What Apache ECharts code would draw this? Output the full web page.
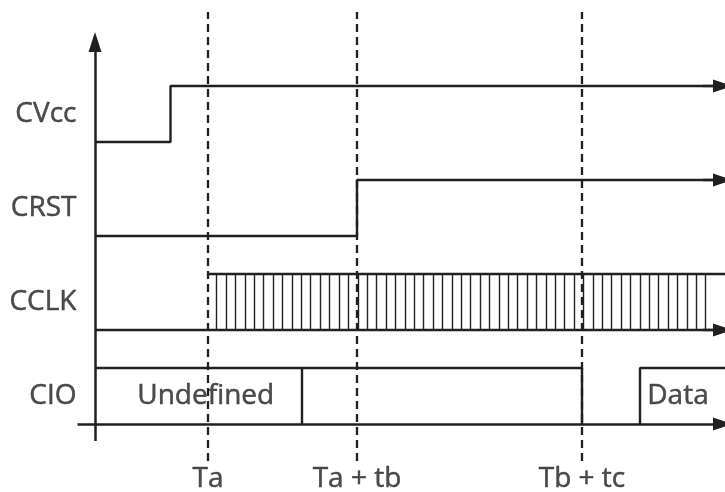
<!DOCTYPE html>
<html>
<head>
<meta charset="utf-8">
<script src="https://cdn.jsdelivr.net/npm/echarts@6/dist/echarts.min.js"></script>
<style>
  html, body { margin: 0; padding: 0; background: #fff; }
  #chart { width: 725px; height: 492px; }
</style>
</head>
<body>
<div id="chart"></div>
<script>
// time axis in arbitrary units, signal levels in arbitrary units (0 = CIO low)
const signalNames = ['CVcc', 'CRST', 'CCLK', 'CIO'];
const lowLevels = [28.2, 18.8, 9.4, 0];
const highLevels = [33.8, 24.4, 15.0, 5.6];

const markerTimes = [11.3, 26.2, 48.7];
const markerLabels = ['Ta', 'Ta + tb', 'Tb + tc'];

const cvccRise = 7.55;
const crstRise = 26.2;
const clkStart = 11.3;
const clockEdges = [
  12.17, 13.11, 14.05, 14.99, 15.93, 16.87, 17.81, 18.75, 19.69, 20.63,
  21.57, 22.51, 23.45, 24.40, 25.34, 26.28, 27.22, 28.16, 29.10, 30.04,
  30.98, 31.92, 32.86, 33.80, 34.74, 35.68, 36.62, 37.56, 38.50, 39.44,
  40.38, 41.32, 42.26, 43.20, 44.14, 45.08, 46.03, 46.97, 47.91, 48.85,
  49.79, 50.73, 51.67, 52.61, 53.55, 54.49, 55.43, 56.37, 57.31, 58.25,
  59.19, 60.13, 61.07,
];
const cioUndefinedEnd = 20.7;
const cioRelease = 48.7;
const cioDataStart = 54.5;
const cioTexts = ['Undefined', 'Data'];
const cioTextTimes = [11.07, 58.3];

const timeStart = -1.75;
const timeEnd = 62.8;
const edgeTime = 63;
const levelBottom = -1.7;
const levelTop = 38.2;
const dashBottom = -3.7;
const dashTop = 41.2;
const markerLabelLevel = -5.5;
const nameTime = -1.8;

const ink = '#231f20';
const font = 'Open Sans';

const chartDom = document.getElementById('chart');
const myChart = echarts.init(chartDom, null, { renderer: 'canvas' });

const arrowLine = (from, to) => ([
  { coord: from, symbol: 'none' },
  { coord: to, symbol: 'triangle', symbolSize: [13, 20] },
]);

const plainSeries = (data, width) => ({
  type: 'line',
  data,
  symbol: 'none',
  silent: true,
  lineStyle: { color: ink, width: width || 2.4 },
});

const series = [];

// CVcc
series.push(Object.assign(plainSeries([
  [0, lowLevels[0]], [cvccRise, lowLevels[0]], [cvccRise, highLevels[0]], [timeEnd, highLevels[0]],
]), {
  markLine: {
    silent: true,
    label: { show: false },
    lineStyle: { color: ink, width: 2.4, type: 'solid' },
    data: [arrowLine([timeEnd - 2, highLevels[0]], [timeEnd, highLevels[0]])],
  },
}));

// CRST
series.push(Object.assign(plainSeries([
  [0, lowLevels[1]], [crstRise, lowLevels[1]], [crstRise, highLevels[1]], [timeEnd, highLevels[1]],
]), {
  markLine: {
    silent: true,
    label: { show: false },
    lineStyle: { color: ink, width: 2.4, type: 'solid' },
    data: [arrowLine([timeEnd - 2, highLevels[1]], [timeEnd, highLevels[1]])],
  },
}));

// CCLK baseline + top + clock ticks
series.push(Object.assign(plainSeries([[0, lowLevels[2]], [timeEnd, lowLevels[2]]]), {
  markLine: {
    silent: true,
    label: { show: false },
    lineStyle: { color: ink, width: 2.4, type: 'solid' },
    data: [arrowLine([timeEnd - 2, lowLevels[2]], [timeEnd, lowLevels[2]])],
  },
}));
series.push(Object.assign(plainSeries([[clkStart, highLevels[2]], [edgeTime, highLevels[2]]]), {
  markLine: {
    silent: true,
    symbol: 'none',
    label: { show: false },
    lineStyle: { color: ink, width: 1.4, type: 'solid' },
    data: clockEdges.map((t) => [
      { coord: [t, lowLevels[2]] },
      { coord: [t, highLevels[2]] },
    ]),
  },
}));

// CIO
series.push(Object.assign(plainSeries([
  [0, highLevels[3]], [cioRelease, highLevels[3]], [cioRelease, lowLevels[3]],
]), {
  markLine: {
    silent: true,
    symbol: 'none',
    label: { show: false },
    lineStyle: { color: ink, width: 2.4, type: 'solid' },
    data: [[
      { coord: [cioUndefinedEnd, lowLevels[3]] },
      { coord: [cioUndefinedEnd, highLevels[3]] },
    ]],
  },
}));
series.push(plainSeries([
  [cioDataStart, lowLevels[3]], [cioDataStart, highLevels[3]], [edgeTime, highLevels[3]],
]));

// axes with arrows
series.push({
  type: 'line',
  data: [],
  silent: true,
  markLine: {
    silent: true,
    label: { show: false },
    lineStyle: { color: ink, width: 2.5, type: 'solid' },
    data: [
      arrowLine([0, levelBottom], [0, levelTop]),
      arrowLine([timeStart, 0], [timeEnd, 0]),
    ],
  },
});

// dashed time markers
series.push({
  type: 'line',
  data: [],
  silent: true,
  markLine: {
    silent: true,
    symbol: 'none',
    label: { show: false },
    lineStyle: { color: ink, width: 2.3, type: [8, 5] },
    data: markerTimes.map((t) => [
      { coord: [t, dashBottom] },
      { coord: [t, dashTop] },
    ]),
  },
});

// texts
const textSeries = (data, label) => ({
  type: 'scatter',
  data,
  symbolSize: 1,
  silent: true,
  itemStyle: { color: 'rgba(0,0,0,0)' },
  label: Object.assign({
    show: true,
    color: ink,
    fontFamily: font,
    fontSize: 28,
    textBorderColor: ink,
    textBorderWidth: 0.5,
  }, label),
});

series.push(textSeries(
  signalNames.map((n, i) => ({ value: [nameTime, (lowLevels[i] + highLevels[i]) / 2], name: n })),
  { position: 'left', distance: 0, formatter: (p) => p.name },
));
series.push(textSeries(
  markerLabels.map((n, i) => ({ value: [markerTimes[i], markerLabelLevel], name: n })),
  { position: 'inside', formatter: (p) => p.name },
));
series.push(textSeries(
  cioTexts.map((n, i) => ({ value: [cioTextTimes[i], (lowLevels[3] + highLevels[3]) / 2], name: n })),
  { position: 'inside', formatter: (p) => p.name },
));

myChart.setOption({
  animation: false,
  backgroundColor: '#fff',
  grid: { left: 0, right: 0, top: 0, bottom: 0 },
  xAxis: { type: 'value', min: -9.5, max: 63, show: false },
  yAxis: { type: 'value', min: -6.8, max: 42.4, show: false },
  series,
});
</script>
</body>
</html>
